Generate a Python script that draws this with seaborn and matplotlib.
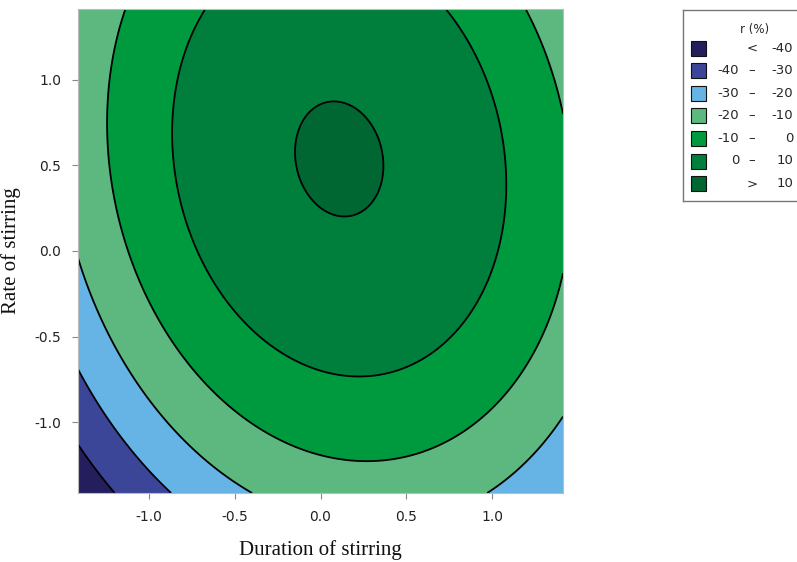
import numpy as np
import matplotlib.pyplot as plt
import seaborn as sns
from matplotlib.patches import Rectangle

# Fitted second-order response surface for r (%), coded factors
# r = b0 + b1*x + b2*y + b11*x^2 + b22*y^2 + b12*x*y
coef_names = ["b0", "b1", "b2", "b11", "b22", "b12"]
coef_values = [8.54, 3.63, 7.49, -11.49, -6.75, -2.09]

levels = [-60, -40, -30, -20, -10, 0, 10, 30]
level_colors = ["#241f5c", "#3c4699", "#66b3e5", "#5db87f",
                "#009a3e", "#007f3c", "#006632"]
legend_left = ["", "-40", "-30", "-20", "-10", "0", ""]
legend_mid = ["<", "\u2013", "\u2013", "\u2013", "\u2013", "\u2013", ">"]
legend_right = ["-40", "-30", "-20", "-10", "0", "10", "10"]

x_ticks = [-1.0, -0.5, 0.0, 0.5, 1.0]
y_ticks = [-1.0, -0.5, 0.0, 0.5, 1.0]
alpha = 1.414

sns.set_theme(style="white")
plt.rcParams["font.family"] = ["DejaVu Sans"]

b = dict(zip(coef_names, coef_values))
g = np.linspace(-alpha, alpha, 400)
X, Y = np.meshgrid(g, g)
R = (b["b0"] + b["b1"] * X + b["b2"] * Y + b["b11"] * X ** 2
     + b["b22"] * Y ** 2 + b["b12"] * X * Y)

fig = plt.figure(figsize=(7.97, 5.62), dpi=100)
ax = fig.add_axes([78 / 797, 1 - 493 / 562, 485 / 797, 484 / 562])

palette = sns.color_palette(level_colors)
ax.contourf(X, Y, R, levels=levels, colors=palette)
ax.contour(X, Y, R, levels=levels[1:-1], colors="black",
           linewidths=1.3, linestyles="solid")

ax.set_xlim(-alpha, alpha)
ax.set_ylim(-alpha, alpha)
ax.set_xticks(x_ticks)
ax.set_yticks(y_ticks)
ax.set_xticklabels([f"{t:.1f}" for t in x_ticks], fontsize=10, color="#222222")
ax.set_yticklabels([f"{t:.1f}" for t in y_ticks], fontsize=10, color="#222222")
ax.tick_params(axis="both", direction="out", length=4, width=0.8,
               color="#888888", bottom=True, left=True, pad=8)
for s in ax.spines.values():
    s.set_color("#bbbbbb")
    s.set_linewidth(0.8)

ax.set_xlabel("Duration of stirring", family="Liberation Serif",
              fontsize=15, color="#111111", labelpad=12)
ax.set_ylabel("Rate of stirring", family="Liberation Serif",
              fontsize=15, color="#111111", labelpad=10)

# Legend drawn in its own panel, pixel-like coordinates
lax = fig.add_axes([683 / 797, 1 - 201 / 562, 130 / 797, 191 / 562])
lax.set_xlim(0, 130)
lax.set_ylim(191, 0)
lax.set_xticks([])
lax.set_yticks([])
for s in lax.spines.values():
    s.set_color("#777777")
    s.set_linewidth(1.0)
lax.text(72, 20, "r (%)", ha="center", va="center", fontsize=8.5)
for i, col in enumerate(palette):
    yc = 38 + i * 22.6
    lax.add_patch(Rectangle((8, yc - 7.5), 15, 15, facecolor=col,
                            edgecolor="#111111", linewidth=0.8))
    lax.text(56, yc, legend_left[i], ha="right", va="center", fontsize=9.5)
    lax.text(69, yc, legend_mid[i], ha="center", va="center", fontsize=9.5)
    lax.text(110, yc, legend_right[i], ha="right", va="center", fontsize=9.5)

fig.savefig("out.png", dpi=100)
